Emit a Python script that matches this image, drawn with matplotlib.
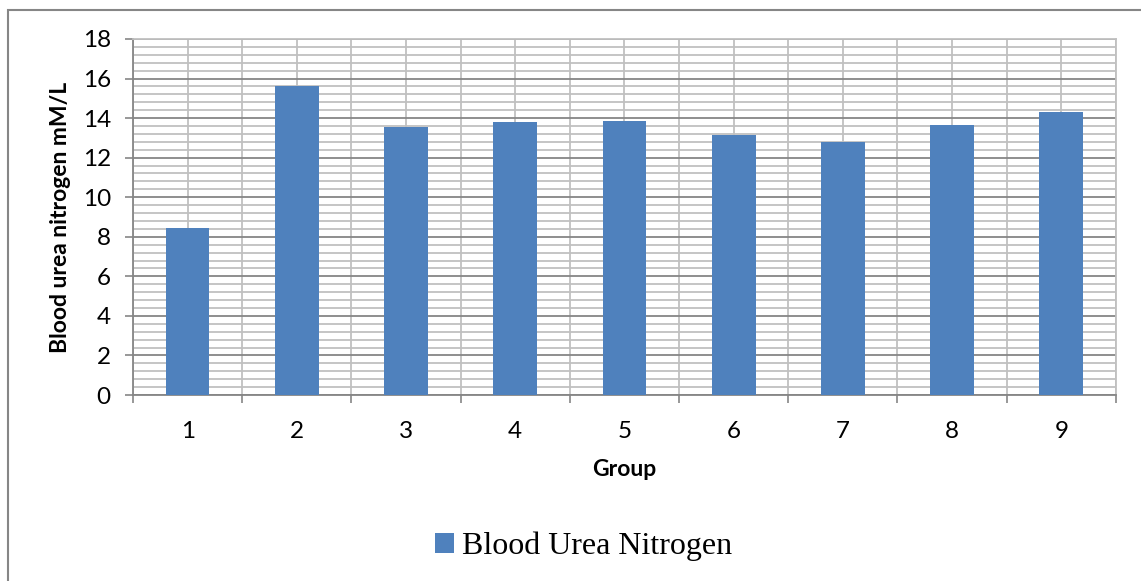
import matplotlib.pyplot as plt
from matplotlib.patches import Rectangle
from matplotlib.ticker import MultipleLocator, FixedLocator, NullFormatter

# 各组血尿素氮数据
groups = ['1', '2', '3', '4', '5', '6', '7', '8', '9']
bun = [8.43, 15.62, 13.55, 13.8, 13.85, 13.14, 12.78, 13.65, 14.29]

bar_color = '#4f81bd'
major_grid = '#868686'
minor_grid = '#c0c0c0'

fig = plt.figure(figsize=(11.41, 5.81), dpi=100)
ax = fig.add_axes([0.1166, 0.3201, 0.978 - 0.1166, 0.9329 - 0.3201])

x = list(range(1, len(groups) + 1))
ax.bar(x, bun, width=0.4, color=bar_color, zorder=3)

ax.set_xlim(0.5, len(groups) + 0.5)
ax.set_ylim(0, 18)

# 网格：主刻度每2，次刻度每0.4；竖线在组边界和组中心
ax.yaxis.set_major_locator(MultipleLocator(2))
ax.yaxis.set_minor_locator(MultipleLocator(0.4))
ax.xaxis.set_major_locator(FixedLocator([i + 0.5 for i in range(len(groups) + 1)]))
ax.xaxis.set_major_formatter(NullFormatter())
ax.xaxis.set_minor_locator(FixedLocator(x))
ax.set_xticklabels(groups, minor=True)

ax.grid(which='major', axis='y', color=major_grid, lw=1.3, zorder=1)
ax.grid(which='minor', axis='y', color=minor_grid, lw=1.3, zorder=0)
ax.grid(which='both', axis='x', color=minor_grid, lw=1.3, zorder=0)
ax.set_axisbelow(True)

font = ['Lato', 'DejaVu Sans']
ax.tick_params(axis='y', which='major', length=6, width=1.2, color=major_grid,
               labelsize=17.5, pad=10)
ax.tick_params(axis='y', which='minor', length=0)
ax.tick_params(axis='x', which='major', length=6, width=1.2, color=major_grid)
ax.tick_params(axis='x', which='minor', length=0, labelsize=17.5, pad=19)
for lab in ax.get_yticklabels() + ax.get_xticklabels(minor=True):
    lab.set_family(font)

for side in ['left', 'bottom']:
    ax.spines[side].set_color(major_grid)
    ax.spines[side].set_linewidth(1.3)
for side in ['top', 'right']:
    ax.spines[side].set_color(minor_grid)
    ax.spines[side].set_linewidth(1.3)

ax.set_ylabel('Blood urea nitrogen mM/L', fontsize=16.5, fontweight='bold',
              family=font, labelpad=8)
ax.set_xlabel('Group', fontsize=16.5, fontweight='bold', family=font, labelpad=12)

# 图例
leg = ax.legend(['Blood Urea Nitrogen'], loc='center', bbox_to_anchor=(0.458, -0.425),
                frameon=False, prop={'family': 'Liberation Serif', 'size': 23},
                handlelength=0.6, handleheight=0.6, handletextpad=0.25)

# 图表外框
fig.patches.append(Rectangle((8 / 1141, -0.1), 1.2, 1 - 10 / 581 + 0.1,
                             transform=fig.transFigure, fill=False,
                             edgecolor='#868686', lw=1.5))

fig.savefig('out.png', dpi=100)
